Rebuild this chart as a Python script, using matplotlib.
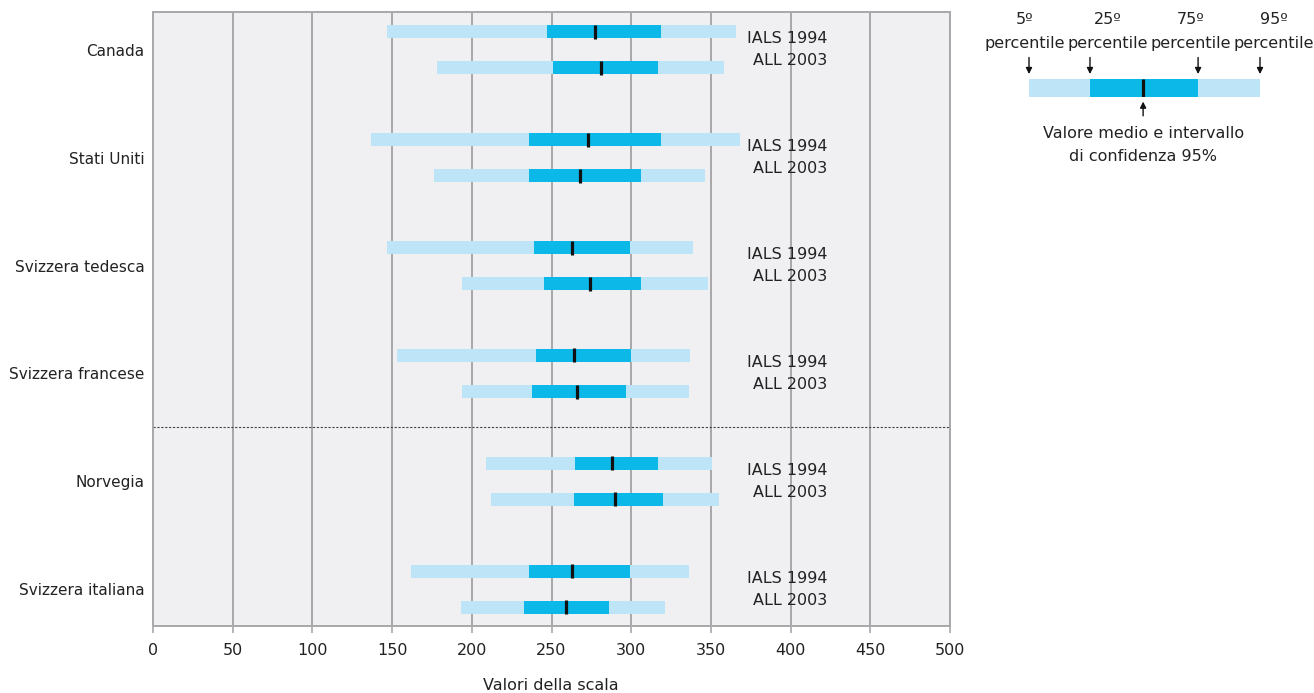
import matplotlib.pyplot as plt
import numpy as np

plt.rcParams['font.family'] = ['DejaVu Sans']

# dati (valori della scala)
regioni = ['Canada', 'Stati Uniti', 'Svizzera tedesca', 'Svizzera francese',
           'Norvegia', 'Svizzera italiana']
indagini = ['IALS 1994', 'ALL 2003']

# per ogni regione: [IALS 1994, ALL 2003]
p5 = [[147, 178], [137, 176], [147, 194], [153, 194], [209, 212], [162, 193]]
p25 = [[247, 251], [236, 236], [239, 245], [240, 238], [265, 264], [236, 233]]
media = [[277, 281], [273, 268], [263, 274], [264, 266], [288, 290], [263, 259]]
p75 = [[319, 317], [319, 306], [299, 306], [300, 297], [317, 320], [299, 286]]
p95 = [[366, 358], [368, 346], [339, 348], [337, 336], [351, 355], [336, 321]]

c_chiaro = '#bee4f7'
c_scuro = '#0cb8e8'
c_griglia = '#a8a8ab'

fig = plt.figure(figsize=(13.14, 6.93), dpi=100)
ax = fig.add_axes([153 / 1314, 1 - 626 / 693, 797 / 1314, 614 / 693])
ax.set_facecolor('#f0f0f2')

off = 0.167   # distanza delle due barre dal centro del gruppo
h = 0.12
for i in range(len(regioni)):
    for j in range(2):
        y = i + (-off if j == 0 else off)
        ax.barh(y, p95[i][j] - p5[i][j], left=p5[i][j], height=h,
                color=c_chiaro, zorder=2)
        ax.barh(y, p75[i][j] - p25[i][j], left=p25[i][j], height=h,
                color=c_scuro, zorder=3)
        ax.vlines(media[i][j], y - h / 2 - 0.005, y + h / 2 + 0.005,
                  color='#111111', lw=2.3, zorder=4)
        ax.text(423, i + (-0.1 if j == 0 else 0.1), indagini[j],
                ha='right', va='center', fontsize=11.5, color='#222222', zorder=5)

# separazione tra Svizzera e Norvegia
ax.axhline(3.5, color='#444444', lw=0.8, ls=(0, (2, 1.5)), zorder=2)

ax.set_xlim(0, 500)
ax.set_ylim(5.34, -0.35)
ax.set_xticks(np.arange(0, 501, 50))
ax.xaxis.grid(True, color=c_griglia, lw=1.4, zorder=1)
ax.set_axisbelow(True)
ax.set_yticks(range(len(regioni)))
ax.set_yticklabels(regioni, fontsize=11, color='#222222')
ax.tick_params(axis='y', length=0, pad=6)
ax.tick_params(axis='x', length=5, width=1.2, color=c_griglia, labelsize=11.5,
               labelcolor='#222222', pad=7)
for s in ax.spines.values():
    s.set_color(c_griglia)
    s.set_linewidth(1.4)
fig.text(551 / 1314, 1 - 685 / 693, 'Valori della scala', ha='center',
         va='center', fontsize=11.5, color='#222222')

# legenda schematica
chiave = [0.0, 0.264, 0.732, 1.0]   # 5, 25, 75, 95 percentile
chiave_media = 0.494
kx = fig.add_axes([1029 / 1314, 1 - 97 / 693, 231 / 1314, 18 / 693])
kx.set_xlim(0, 1)
kx.set_ylim(0, 1)
kx.axis('off')
kx.barh(0.5, chiave[3] - chiave[0], left=chiave[0], height=1, color=c_chiaro)
kx.barh(0.5, chiave[2] - chiave[1], left=chiave[1], height=1, color=c_scuro)
kx.vlines(chiave_media, 0, 1, color='#111111', lw=2.3)

etichette = ['5º', '25º', '75º', '95º']
pos_testo = [-0.02, 0.34, 0.70, 1.06]
for k in range(4):
    kx.annotate('', xy=(chiave[k], 1.12), xytext=(chiave[k], 2.35),
                arrowprops=dict(arrowstyle='-|>', color='#111111', lw=1,
                                mutation_scale=9),
                annotation_clip=False)
    kx.text(pos_testo[k], 2.95, 'percentile', ha='center', va='center',
            fontsize=11.5, color='#222222', clip_on=False)
    kx.text(pos_testo[k], 4.3, etichette[k], ha='center', va='center',
            fontsize=11.5, color='#222222', clip_on=False)
kx.annotate('', xy=(chiave_media, -0.1), xytext=(chiave_media, -1.2),
            arrowprops=dict(arrowstyle='-|>', color='#111111', lw=1,
                            mutation_scale=9),
            annotation_clip=False)
kx.text(chiave_media, -2.05, 'Valore medio e intervallo', ha='center',
        va='center', fontsize=11.5, color='#222222', clip_on=False)
kx.text(chiave_media, -3.3, 'di confidenza 95%', ha='center',
        va='center', fontsize=11.5, color='#222222', clip_on=False)

fig.savefig('out.png', dpi=100)
